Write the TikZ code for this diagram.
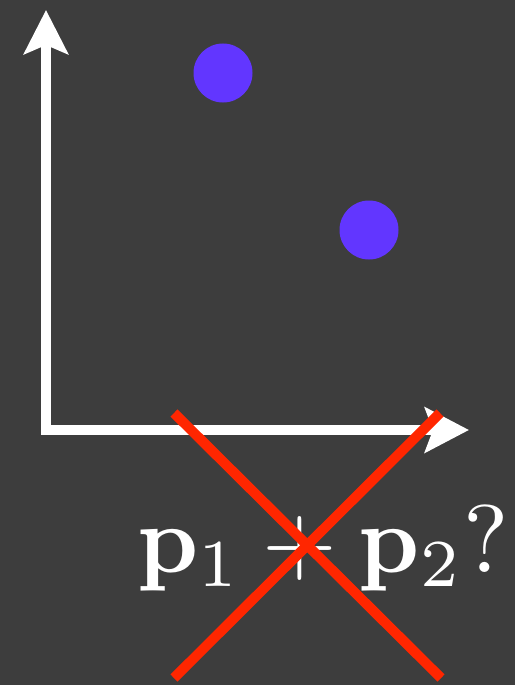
\documentclass[tikz,border=0pt]{standalone}
\usepackage{graphicx}
\usetikzlibrary{arrows.meta}
\definecolor{bg}{HTML}{3D3D3D}
\definecolor{dotc}{HTML}{6236FF}
\definecolor{crossc}{HTML}{FF2600}
\tikzset{
  axis/.style={draw=white, line width=10pt, line join=miter,
    {Stealth[length=44pt,width=44pt,inset=9pt]}-{Stealth[length=44pt,width=45pt,inset=8pt]}},
  dot/.style={circle, fill=dotc, minimum size=59pt, inner sep=0pt},
  crossline/.style={draw=crossc, line width=10pt},
  lbl/.style={text=white, inner sep=0pt}
}
\begin{document}
\begin{tikzpicture}[x=1pt,y=-1pt]
\fill[bg] (0,0) rectangle (515,685);
\useasboundingbox (0,0) rectangle (515,685);
\coordinate (ytip) at (46,10);
\coordinate (orig) at (46,430);
\coordinate (xtip) at (469,430);
\draw[axis] (ytip) -- (orig) -- (xtip);
\node[dot] (d1) at (223,73) {};
\node[dot] (d2) at (369,230) {};
\node[lbl, anchor=base west] (eq) at (137,572)
  {\scalebox{9.6}{$\mathbf{p}_1+\mathbf{p}_2?$}};
\coordinate (c1) at (174,413);
\coordinate (c2) at (441,678);
\coordinate (c3) at (440,413);
\coordinate (c4) at (174,678);
\draw[crossline] (c1) -- (c2);
\draw[crossline] (c3) -- (c4);
\end{tikzpicture}
\end{document}
